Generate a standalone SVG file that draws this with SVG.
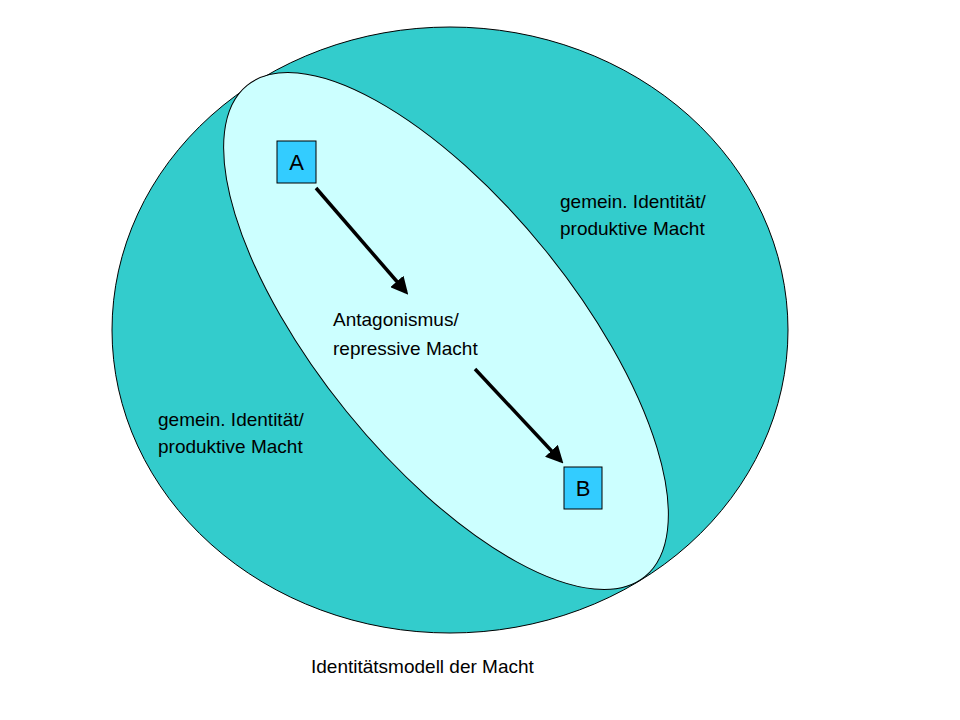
<svg xmlns="http://www.w3.org/2000/svg" width="960" height="720" viewBox="0 0 960 720">
<style>
text{font-family:"Liberation Sans",Arial,sans-serif;font-size:19px;fill:#000}
.box{fill:#33CCFF;stroke:#000;stroke-width:1}
.arr{stroke:#000;stroke-width:3.5;fill:none;marker-end:url(#ah)}
</style>
<defs><marker id="ah" markerWidth="5" markerHeight="5" refX="4" refY="2.5" orient="auto"><path d="M0,0L5,2.5L0,5z" fill="#000"/></marker></defs>
<rect width="960" height="720" fill="#fff"/>
<g id="outer"><ellipse cx="450" cy="330" rx="338" ry="303" fill="#33CCCC" stroke="#000"/></g>
<g id="inner"><ellipse cx="0" cy="0" rx="316" ry="128" transform="translate(446,331) rotate(51)" fill="#CCFFFF" stroke="#000"/></g>
<g id="A"><rect class="box" x="277" y="141" width="39" height="42"/><text x="296.5" y="170" text-anchor="middle" style="font-size:22px">A</text></g>
<g id="B"><rect class="box" x="564" y="467" width="38" height="42"/><text x="583" y="496" text-anchor="middle" style="font-size:22px">B</text></g>
<g id="connectors">
<line class="arr" x1="316" y1="188" x2="406" y2="292"/>
<line class="arr" x1="475" y1="369" x2="561" y2="461"/>
</g>
<g id="labels">
<text x="560" y="208">gemein. Identität/</text><text x="560" y="235">produktive Macht</text>
<text x="333" y="326">Antagonismus/</text><text x="333" y="355">repressive Macht</text>
<text x="158" y="426">gemein. Identität/</text><text x="158" y="453">produktive Macht</text>
<text x="311" y="673">Identitätsmodell der Macht</text>
</g>
</svg>
